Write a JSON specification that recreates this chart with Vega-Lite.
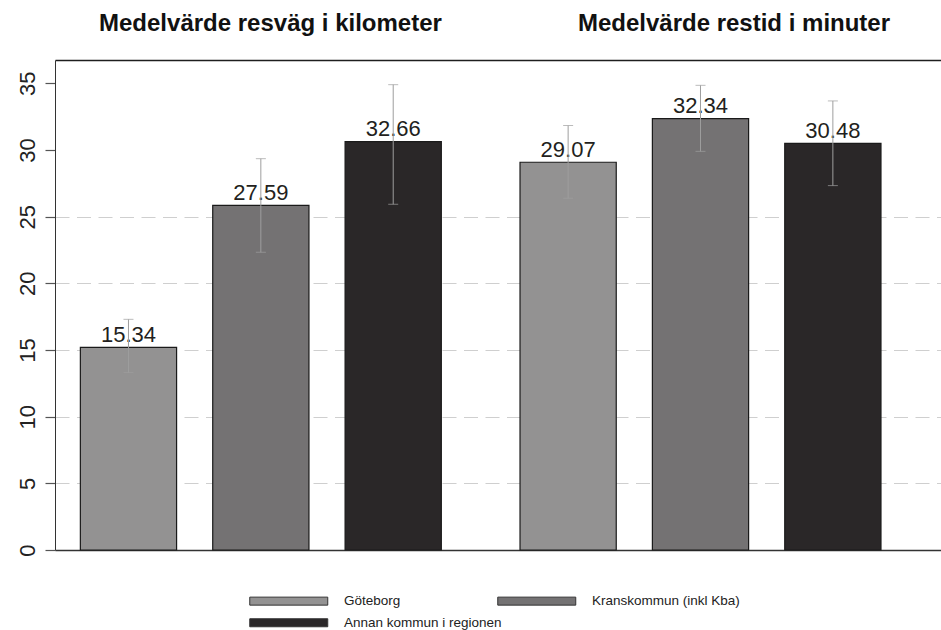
{
  "$schema": "https://vega.github.io/schema/vega-lite/v6.json",
  "width": 886,
  "height": 490,
  "autosize": {"type": "none"},
  "padding": {"left": 55, "top": 60, "right": 0, "bottom": 80},
  "config": {
    "font": "Liberation Sans",
    "view": {"stroke": null},
    "axis": {"labelFont": "Liberation Sans"}
  },
  "data": {
    "values": [
      {"measure": "Medelvärde resväg i kilometer", "region": "Göteborg", "value": 15.2, "label": 15.34, "lo": 13.3, "hi": 17.3},
      {"measure": "Medelvärde resväg i kilometer", "region": "Kranskommun (inkl Kba)", "value": 25.85, "label": 27.59, "lo": 22.33, "hi": 29.35},
      {"measure": "Medelvärde resväg i kilometer", "region": "Annan kommun i regionen", "value": 30.63, "label": 32.66, "lo": 25.93, "hi": 34.9},
      {"measure": "Medelvärde restid i minuter", "region": "Göteborg", "value": 29.08, "label": 29.07, "lo": 26.38, "hi": 31.83},
      {"measure": "Medelvärde restid i minuter", "region": "Kranskommun (inkl Kba)", "value": 32.35, "label": 32.34, "lo": 29.9, "hi": 34.85},
      {"measure": "Medelvärde restid i minuter", "region": "Annan kommun i regionen", "value": 30.5, "label": 30.48, "lo": 27.33, "hi": 33.68}
    ]
  },
  "encoding": {
    "x": {
      "field": "measure",
      "type": "nominal",
      "sort": null,
      "scale": {"paddingInner": 0.179, "paddingOuter": 0.0971, "align": 0.297},
      "axis": {
        "orient": "top",
        "title": null,
        "domain": true,
        "domainColor": "#1e1e1e",
        "domainWidth": 1.5,
        "ticks": false,
        "tickSize": 0,
        "labelAngle": 0,
        "labelFontSize": 24,
        "labelFontWeight": "bold",
        "labelColor": "#111111",
        "labelBaseline": "alphabetic",
        "labelPadding": 30,
        "labelLimit": 0,
        "labelOverlap": false,
        "labelOffset": {"condition": {"test": "datum.value === 'Medelvärde restid i minuter'", "value": 33.5}, "value": 9.6}
      }
    },
    "xOffset": {
      "field": "region",
      "type": "nominal",
      "sort": null,
      "scale": {"paddingInner": 0.273, "paddingOuter": 0}
    }
  },
  "layer": [
    {
      "mark": {"type": "bar", "stroke": "#1a1a1a", "strokeWidth": 1.2},
      "encoding": {
        "y": {
          "field": "value",
          "type": "quantitative",
          "scale": {"domain": [0, 36.75], "nice": false, "zero": true},
          "axis": {
            "title": null,
            "values": [0, 5, 10, 15, 20, 25, 30, 35],
            "domain": true,
            "domainColor": "#333333",
            "domainWidth": 1,
            "ticks": true,
            "tickSize": 10,
            "tickColor": "#555555",
            "tickWidth": 1.2,
            "labelAngle": 270,
            "labelAlign": "center",
            "labelBaseline": "alphabetic",
            "labelPadding": 11,
            "labelFontSize": 22,
            "labelColor": "#222222",
            "grid": true,
            "gridColor": {"condition": {"test": "datum.value === 0", "value": "#333333"}, "value": "#cfcfcf"},
            "gridDash": {"condition": {"test": "datum.value === 0", "value": []}, "value": [14, 7.5]},
            "gridWidth": {"condition": {"test": "datum.value === 0", "value": 1.5}, "value": 1.2},
            "gridOpacity": {"condition": {"test": "datum.value > 25", "value": 0}, "value": 1}
          }
        },
        "fill": {
          "field": "region",
          "type": "nominal",
          "sort": null,
          "scale": {
            "domain": ["Göteborg", "Kranskommun (inkl Kba)", "Annan kommun i regionen"],
            "range": ["#939292", "#747273", "#2a2728"]
          },
          "legend": {
            "title": null,
            "orient": "none",
            "legendX": 227,
            "legendY": 534,
            "direction": "horizontal",
            "columns": 2,
            "columnPadding": -7,
            "rowPadding": 7,
            "symbolType": "M-7.8,-0.8H7.8V0.8H-7.8Z",
            "symbolSize": 100,
            "symbolStrokeColor": "#333333",
            "symbolStrokeWidth": 1,
            "symbolOpacity": 1,
            "labelFontSize": 13.5,
            "labelColor": "#222222",
            "labelOffset": 48.5,
            "labelLimit": 0
          }
        }
      }
    },
    {
      "mark": {"type": "text", "baseline": "alphabetic", "align": "center", "dy": -5.5, "fontSize": 22, "color": "#231f20"},
      "encoding": {
        "y": {"field": "value", "type": "quantitative", "scale": {"domain": [0, 36.75], "nice": false}},
        "text": {"field": "label", "type": "quantitative", "format": ".2f"}
      }
    },
    {
      "mark": {"type": "rule", "color": "#9e9e9e", "strokeWidth": 1},
      "encoding": {
        "y": {"field": "lo", "type": "quantitative", "scale": {"domain": [0, 36.75], "nice": false}},
        "y2": {"field": "hi"}
      }
    },
    {
      "mark": {"type": "tick", "color": "#9e9e9e", "thickness": 1, "size": 10, "orient": "horizontal"},
      "encoding": {
        "y": {"field": "hi", "type": "quantitative", "scale": {"domain": [0, 36.75], "nice": false}}
      }
    },
    {
      "mark": {"type": "tick", "color": "#9e9e9e", "thickness": 1, "size": 10, "orient": "horizontal"},
      "encoding": {
        "y": {"field": "lo", "type": "quantitative", "scale": {"domain": [0, 36.75], "nice": false}}
      }
    }
  ]
}
